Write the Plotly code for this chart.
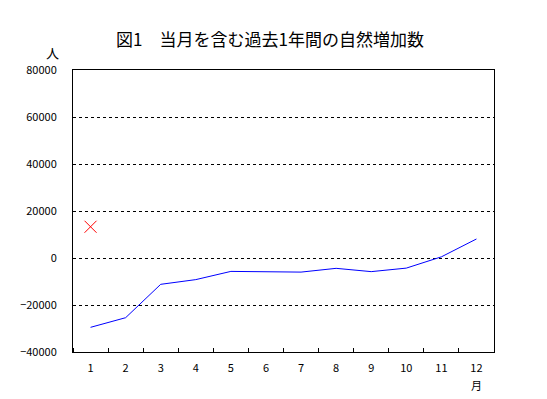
import plotly.graph_objects as go

months = [1, 2, 3, 4, 5, 6, 7, 8, 9, 10, 11, 12]
month_labels = ["1", "2", "3", "4", "5", "6", "7", "8", "9", "10", "11", "12"]
natural_increase = [-29500, -25400, -11200, -9200, -5700, -6000, -6000, -4400, -5800, -4300, 500, 8100]
prev_year_month = [1]
prev_year_value = [13300]
y_ticks = [-40000, -20000, 0, 20000, 40000, 60000, 80000]

FONT = "Noto Sans CJK JP"

# page body has an 8px margin, so the figure is drawn 8px in from the corner
W, H = 539, 391

fig = go.Figure()
fig.add_trace(go.Scatter(x=months, y=natural_increase, mode="lines",
                         line=dict(color="#0000FF", width=1), showlegend=False))
fig.add_trace(go.Scatter(x=prev_year_month, y=prev_year_value, mode="markers",
                         marker=dict(symbol="x-thin", size=12, line=dict(color="#FF0000", width=1)),
                         showlegend=False))

fig.update_layout(
    width=W, height=H,
    margin=dict(l=62, r=53, t=62, b=47),
    paper_bgcolor="white", plot_bgcolor="white",
    font=dict(family=FONT, size=11, color="black"),
    title=dict(text="図1　当月を含む過去1年間の自然増加数", x=262/W, xanchor="center",
               y=1 - 32/H, yanchor="middle", yref="container",
               font=dict(family=FONT, size=17, color="black")),
)
fig.update_xaxes(range=[0.5, 12.5], tickvals=months, ticktext=month_labels,
                 ticks="", showgrid=False, zeroline=False,
                 showline=True, linecolor="black", linewidth=1, mirror=True,
                 tickfont=dict(size=11), ticklabelstandoff=6,
                 minor=dict(tick0=0.5, dtick=1, ticks="inside", ticklen=4,
                            tickcolor="black", showgrid=False))
fig.update_yaxes(range=[-40000, 80000], tickvals=y_ticks, tickformat="d",
                 ticks="", showgrid=True, gridcolor="black", griddash="3px,3px", gridwidth=1,
                 zeroline=False, showline=True, linecolor="black", linewidth=1, mirror=True,
                 tickfont=dict(size=11), ticklabelstandoff=13)

fig.add_annotation(text="人", xref="paper", yref="paper", x=-21/424, y=1 + 17/282,
                   showarrow=False, xanchor="center", yanchor="middle", font=dict(size=13))
fig.add_annotation(text="月", xref="x", yref="paper", x=12, y=-33/282,
                   showarrow=False, xanchor="center", yanchor="middle", font=dict(size=11))

fig.write_html("out.html")
